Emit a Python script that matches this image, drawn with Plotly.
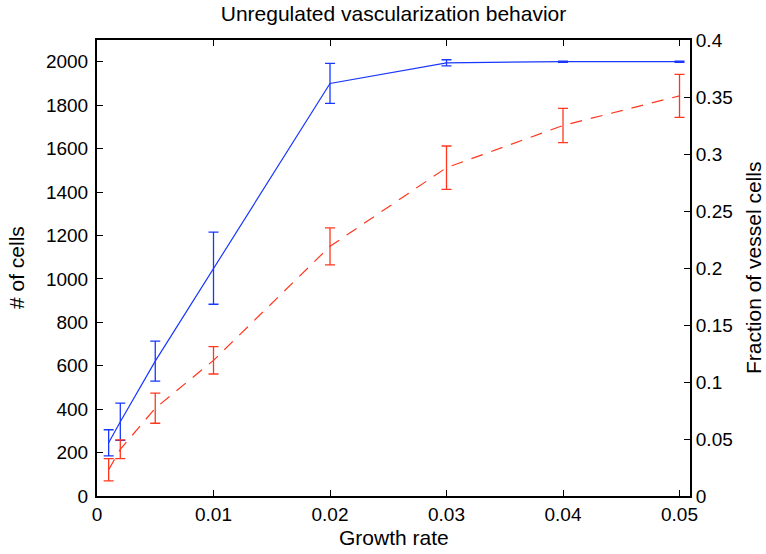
import plotly.graph_objects as go

growth_rate = [0.001, 0.002, 0.005, 0.01, 0.02, 0.03, 0.04, 0.05]
num_cells = [245, 342, 621, 1049, 1900, 1995, 2000, 2000]
num_cells_err = [60, 86, 92, 166, 92, 14, 3, 3]
vessel_frac = [0.023, 0.041, 0.077, 0.119, 0.219, 0.288, 0.325, 0.351]
vessel_frac_err = [0.0097, 0.0083, 0.0132, 0.012, 0.0162, 0.019, 0.015, 0.0188]

left_ticks = [0, 200, 400, 600, 800, 1000, 1200, 1400, 1600, 1800, 2000]
right_ticks = [0, 0.05, 0.1, 0.15, 0.2, 0.25, 0.3, 0.35, 0.4]
right_tick_text = ["0", "0.05", "0.1", "0.15", "0.2", "0.25", "0.3", "0.35", "0.4"]
x_ticks = [0, 0.01, 0.02, 0.03, 0.04, 0.05]
x_tick_text = ["0", "0.01", "0.02", "0.03", "0.04", "0.05"]

title_text = "Unregulated vascularization behavior"
x_label = "Growth rate"
left_label = "# of cells"
right_label = "Fraction of vessel cells"

blue = "rgb(25,55,255)"
red = "rgb(255,55,30)"
font = "Liberation Sans, Arial, sans-serif"
tick_font = dict(family=font, size=19, color="black")
label_font = dict(family=font, size=21, color="black")

W, H = 766, 554

fig = go.Figure()
fig.add_trace(go.Scatter(
    x=growth_rate, y=num_cells, mode="lines",
    line=dict(color=blue, width=1.2),
    error_y=dict(type="data", array=num_cells_err, color=blue, thickness=1.3, width=5),
    yaxis="y", showlegend=False, cliponaxis=False))
fig.add_trace(go.Scatter(
    x=growth_rate, y=vessel_frac, mode="lines",
    line=dict(color=red, width=1.2, dash="12px,9px"),
    error_y=dict(type="data", array=vessel_frac_err, color=red, thickness=1.3, width=5),
    yaxis="y2", showlegend=False, cliponaxis=False))

axis_common = dict(showgrid=False, zeroline=False, showline=True, linecolor="black",
                   linewidth=2, ticks="inside", ticklen=6, tickwidth=1, tickcolor="black",
                   tickfont=tick_font, automargin=False)

fig.update_layout(
    width=W, height=H,
    margin=dict(l=97, r=76, t=40, b=58, autoexpand=False),
    paper_bgcolor="white", plot_bgcolor="white",
    title=dict(text=title_text, x=0.5, xref="paper", xanchor="center",
               y=1 - 14 / H, yref="container", yanchor="middle",
               font=dict(family=font, size=21, color="black")),
    xaxis=dict(range=[0, 0.0509], tickvals=x_ticks, ticktext=x_tick_text, mirror="ticks",
               **axis_common),
    yaxis=dict(range=[0, 2100], tickvals=left_ticks, ticklabelstandoff=3, **axis_common),
    yaxis2=dict(range=[0, 0.4], tickvals=right_ticks, ticktext=right_tick_text,
                overlaying="y", side="right", **axis_common),
    annotations=[
        dict(text=x_label, xref="paper", yref="paper", x=0.5, y=0, yshift=-41,
             xanchor="center", yanchor="middle", showarrow=False, font=label_font),
        dict(text=left_label, xref="paper", yref="paper", x=0, y=0.5, xshift=-81,
             xanchor="center", yanchor="middle", textangle=-90, showarrow=False, font=label_font),
        dict(text=right_label, xref="paper", yref="paper", x=1, y=0.5, xshift=63,
             xanchor="center", yanchor="middle", textangle=-90, showarrow=False, font=label_font),
    ],
)

fig.write_html("out.html", config={"displayModeBar": False},
               post_script="document.body.style.margin='0';")
